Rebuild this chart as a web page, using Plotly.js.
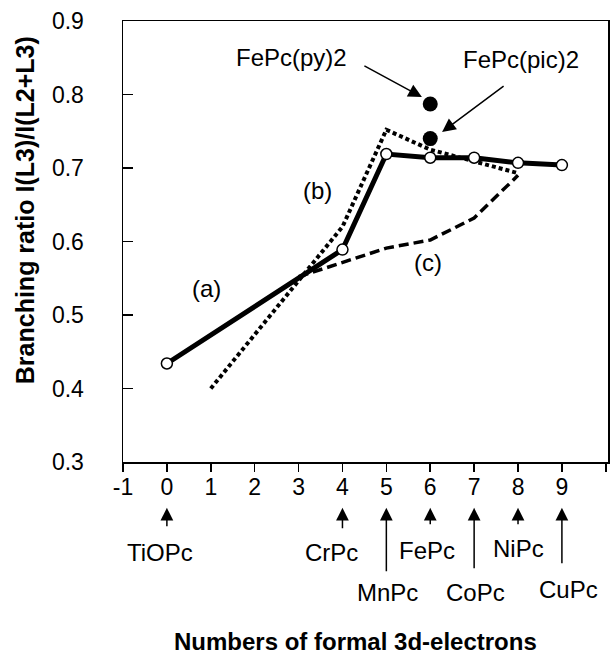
<!DOCTYPE html>
<html>
<head>
<meta charset="utf-8">
<script src="https://cdn.plot.ly/plotly-3.0.1.min.js"></script>
<style>html,body{margin:0;padding:0;background:#fff;}#chart{width:616px;height:654px;}</style>
</head>
<body>
<div id="chart"></div>
<script>
// Curve (a): measured branching ratio (solid line, open circles)
const measuredX = [0, 4, 5, 6, 7, 8, 9];
const measuredY = [0.434, 0.589, 0.719, 0.714, 0.714, 0.707, 0.704];
// Curve (b): dotted
const curveBX = [1, 4, 5, 6, 8];
const curveBY = [0.400, 0.620, 0.752, 0.725, 0.693];
// Curve (c): dashed
const curveCX = [3, 4, 5, 6, 7, 8];
const curveCY = [0.552, 0.572, 0.591, 0.602, 0.632, 0.690];
// Axial-ligand FePc points (filled circles)
const ligandNames = ['FePc(py)2', 'FePc(pic)2'];
const ligandX = [6, 6];
const ligandY = [0.787, 0.740];
// Compounds marked under the x axis
const compoundNames = ['TiOPc', 'CrPc', 'MnPc', 'FePc', 'CoPc', 'NiPc', 'CuPc'];
const compoundX = [0, 4, 5, 6, 7, 8, 9];
// Axis ticks
const xTickVals = [-1, 0, 1, 2, 3, 4, 5, 6, 7, 8, 9, 10];
const xTickText = ['-1', '0', '1', '2', '3', '4', '5', '6', '7', '8', '9', '10'];
const curveLabels = ['(a)', '(b)', '(c)'];
const xTitle = 'Numbers of formal 3d-electrons';
const yTitle = 'Branching ratio I(L3)/I(L2+L3)';

const FONT = 'Liberation Sans, Arial, Helvetica, sans-serif';

const traces = [
  {x: curveBX, y: curveBY, mode: 'lines', line: {color: '#000', width: 4, dash: '4px,3px'}, hoverinfo: 'skip'},
  {x: curveCX, y: curveCY, mode: 'lines', line: {color: '#000', width: 3.5, dash: '10px,5px'}, hoverinfo: 'skip'},
  {x: measuredX, y: measuredY, mode: 'lines+markers', line: {color: '#000', width: 5},
   marker: {symbol: 'circle', size: 11, color: '#fff', line: {color: '#000', width: 1.5}}},
  {x: ligandX, y: ligandY, mode: 'markers', marker: {symbol: 'circle', size: 15, color: '#000'}}
];

// label/arrow placement (layout only)
const ligandLabelPos = [{x: 2.85, y: 0.8497}, {x: 8.07, y: 0.847}];
const ligandArrow = [{x: 5.81, y: 0.7966, ax: -59, ay: -32}, {x: 6.27, y: 0.749, ax: 63, ay: -47}];
const curveLabelPos = [{x: 0.91, y: 0.5354}, {x: 3.44, y: 0.670}, {x: 5.95, y: 0.572}];
const compoundLabelPos = [
  {x: -0.16, y: -0.206}, {x: 3.76, y: -0.206}, {x: 5.02, y: -0.295}, {x: 5.93, y: -0.200},
  {x: 7.02, y: -0.295}, {x: 8.0, y: -0.197}, {x: 9.14, y: -0.290}
];
const compoundArrowLen = [20, 22, 65, 18, 62, 18, 57];

const annotations = [];
ligandNames.forEach((n, i) => {
  annotations.push({x: ligandLabelPos[i].x, y: ligandLabelPos[i].y, xref: 'x', yref: 'y', text: n,
    xanchor: 'center', yanchor: 'middle',
    showarrow: false, font: {family: FONT, size: 24, color: '#000'}});
  annotations.push({x: ligandArrow[i].x, y: ligandArrow[i].y, xref: 'x', yref: 'y', text: '',
    showarrow: true, ax: ligandArrow[i].ax, ay: ligandArrow[i].ay, arrowhead: 2, arrowsize: 1.8,
    arrowwidth: 1.5, arrowcolor: '#000', standoff: 0});
});
curveLabels.forEach((t, i) => {
  annotations.push({x: curveLabelPos[i].x, y: curveLabelPos[i].y, xref: 'x', yref: 'y', text: t,
    xanchor: 'center', yanchor: 'middle',
    showarrow: false, font: {family: FONT, size: 24, color: '#000'}});
});
compoundNames.forEach((n, i) => {
  annotations.push({x: compoundX[i], y: -0.104, xref: 'x', yref: 'paper', text: '',
    showarrow: true, ax: 0, ay: compoundArrowLen[i], arrowhead: 2, arrowsize: 1.7,
    arrowwidth: 1.5, arrowcolor: '#000', standoff: 0});
  annotations.push({x: compoundLabelPos[i].x, y: compoundLabelPos[i].y, xref: 'x', yref: 'paper', text: n,
    xanchor: 'center', yanchor: 'middle',
    showarrow: false, font: {family: FONT, size: 24, color: '#000'}});
});
// axis titles
annotations.push({x: 0.480, y: -0.406, xref: 'paper', yref: 'paper', text: '<b>' + xTitle + '</b>',
  xanchor: 'center', yanchor: 'middle', showarrow: false, font: {family: FONT, size: 24, color: '#000'}});
annotations.push({x: -0.202, y: 0.571, xref: 'paper', yref: 'paper', text: '<b>' + yTitle + '</b>',
  textangle: -90, xanchor: 'center', yanchor: 'middle', showarrow: false,
  font: {family: FONT, size: 25, color: '#000'}});

const layout = {
  width: 616, height: 654,
  margin: {l: 123, r: 8, t: 21, b: 192},
  paper_bgcolor: '#fff', plot_bgcolor: '#fff',
  showlegend: false,
  font: {family: FONT, color: '#000'},
  xaxis: {
    range: [-1.0, 10.05], tickvals: xTickVals, ticktext: xTickText,
    ticks: 'outside', ticklen: 8, tickwidth: 1.5, tickcolor: '#000', ticklabelstandoff: -4,
    showline: true, linecolor: '#000', linewidth: 1.5, mirror: true,
    showgrid: false, zeroline: false,
    tickfont: {family: FONT, size: 23, color: '#000'}
  },
  yaxis: {
    range: [0.3, 0.9], dtick: 0.1, tick0: 0.3, tickformat: '.1f',
    ticks: 'inside', ticklen: 10, tickwidth: 1.5, tickcolor: '#000', ticklabelstandoff: 33,
    showline: true, linecolor: '#000', linewidth: 1.5, mirror: true,
    showgrid: false, zeroline: false,
    tickfont: {family: FONT, size: 23, color: '#000'}
  },
  annotations: annotations
};

Plotly.newPlot('chart', traces, layout, {staticPlot: true, displayModeBar: false});
</script>
</body>
</html>
